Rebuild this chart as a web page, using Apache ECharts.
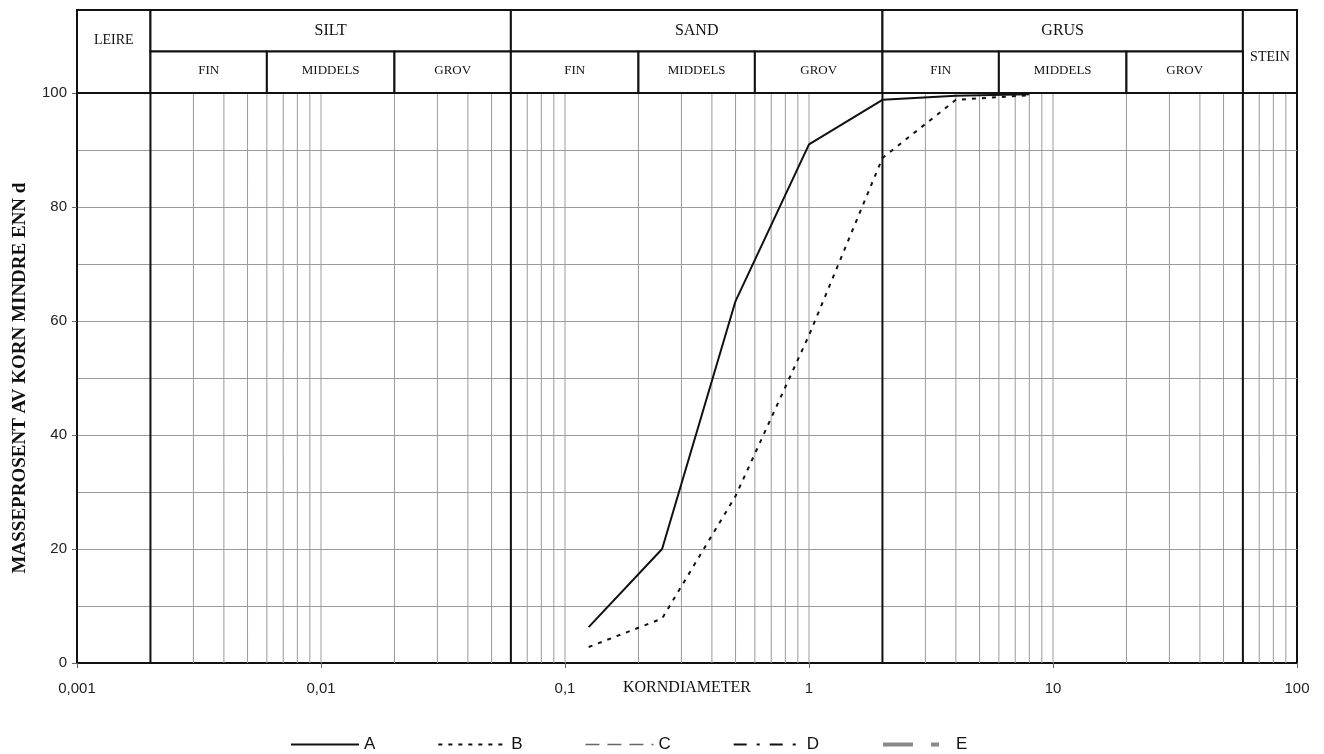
<!DOCTYPE html>
<html><head><meta charset="utf-8">
<script src="https://cdn.jsdelivr.net/npm/echarts@6/dist/echarts.min.js"></script>
<style>html,body{margin:0;padding:0;background:#fff}#c{width:1324px;height:754px}</style>
</head><body><div id="c"></div>
<script>
// ---- data ----
const sizes   = [0.125, 0.25, 0.5, 1, 2, 4, 8];
const seriesA = [6.3, 20, 63.5, 91, 98.8, 99.5, 99.8];
const seriesB = [2.8, 7.8, 29.3, 57.5, 88.6, 98.8, 99.6];
const seriesNames = ['A', 'B', 'C', 'D', 'E'];
const xTickLabels = ['0,001', '0,01', '0,1', '1', '10', '100'];
const classNames  = ['LEIRE', 'SILT', 'SAND', 'GRUS', 'STEIN'];
const classBounds = [0.001, 0.002, 0.06, 2, 60, 100];
const subNames    = ['FIN', 'MIDDELS', 'GROV'];
const subBounds   = [0.002, 0.006, 0.02, 0.06, 0.2, 0.6, 2, 6, 20, 60];
const boundaryLines = [0.002, 0.06, 2, 60];
const minorGrid = [0.002,0.003,0.004,0.005,0.006,0.007,0.008,0.009,
                   0.01,0.02,0.03,0.04,0.05,0.06,0.07,0.08,0.09,
                   0.1,0.2,0.3,0.4,0.5,0.6,0.7,0.8,0.9,
                   1,2,3,4,5,6,7,8,9,
                   10,20,30,40,50,60,70,80,90];

// ---- header cells ----
const cells = [];
classNames.forEach((n, i) => {
  const full = (i === 0 || i === classNames.length - 1);
  cells.push({name: n, x0: classBounds[i], x1: classBounds[i + 1], y0: full ? 0 : 1, y1: 2, kind: full ? 'full' : 'main'});
});
for (let j = 0; j < subBounds.length - 1; j++) {
  cells.push({name: subNames[j % 3], x0: subBounds[j], x1: subBounds[j + 1], y0: 0, y1: 1, kind: 'sub'});
}

function renderHeader(params, api) {
  const c = cells[params.dataIndex];
  const p0 = api.coord([c.x0, c.y1]);
  const p1 = api.coord([c.x1, c.y0]);
  let ty = (p0[1] + p1[1]) / 2;
  if (c.kind === 'sub') ty -= 2;
  if (c.name === 'LEIRE') ty = p0[1] + (p1[1] - p0[1]) * 0.37;
  if (c.name === 'STEIN') ty = p0[1] + (p1[1] - p0[1]) * 0.57;
  const fs = c.kind === 'sub' ? 13 : (c.kind === 'main' ? 16 : 14);
  return {
    type: 'group',
    children: [
      {type: 'rect', shape: {x: p0[0], y: p0[1], width: p1[0] - p0[0], height: p1[1] - p0[1]},
       style: {fill: '#fff', stroke: '#111', lineWidth: 2}},
      {type: 'text', style: {text: c.name, x: (p0[0] + p1[0]) / 2, y: ty, align: 'center', verticalAlign: 'middle',
       font: fs + 'px "Liberation Serif", serif', fill: '#111'}}
    ]
  };
}

function vLineRenderer(width, color) {
  return function (params, api) {
    const v = api.value(0);
    const p0 = api.coord([v, 0]);
    const p1 = api.coord([v, 100]);
    return {type: 'line', shape: {x1: p0[0], y1: p0[1], x2: p1[0], y2: p1[1]},
            style: {stroke: color, lineWidth: width}};
  };
}

const pairs = (vals) => sizes.map((s, i) => [s, vals[i]]);
const FONT_SANS = '"Liberation Sans", Arial, sans-serif';
const FONT_SERIF = '"Liberation Serif", "Times New Roman", serif';

const chart = echarts.init(document.getElementById('c'), null, {renderer: 'canvas'});
chart.setOption({
  animation: false,
  backgroundColor: '#fff',
  grid: [
    {left: 77, right: 27, top: 93, bottom: 91, show: true, borderColor: '#111', borderWidth: 2,
     backgroundColor: 'transparent', containLabel: false, outerBoundsMode: 'none'},
    {left: 77, right: 27, top: 10, height: 83, containLabel: false, outerBoundsMode: 'none'}
  ],
  xAxis: [
    {type: 'log', logBase: 10, min: 0.001, max: 100, gridIndex: 0,
     axisLine: {lineStyle: {color: '#111', width: 2}},
     axisTick: {show: true, length: 5, inside: false, lineStyle: {color: '#666'}},
     axisLabel: {formatter: v => xTickLabels[Math.round(Math.log10(v)) + 3], margin: 18, fontSize: 15,
                 fontFamily: FONT_SANS, color: '#222', showMinLabel: true, showMaxLabel: true},
     splitLine: {show: false},
     name: 'KORNDIAMETER', nameLocation: 'middle', nameGap: 17, nameMoveOverlap: false,
     nameTextStyle: {fontFamily: FONT_SERIF, fontSize: 16, color: '#111', verticalAlign: 'top'}},
    {type: 'log', logBase: 10, min: 0.001, max: 100, gridIndex: 1, show: false}
  ],
  yAxis: [
    {type: 'value', min: 0, max: 100, interval: 20, gridIndex: 0,
     axisLine: {show: true, lineStyle: {color: '#111', width: 2}},
     axisTick: {show: true, length: 5, lineStyle: {color: '#666'}},
     axisLabel: {margin: 10, fontSize: 15, fontFamily: FONT_SANS, color: '#222'},
     splitLine: {show: true, lineStyle: {color: '#9a9a9a', width: 1}},
     minorTick: {show: false, splitNumber: 2},
     minorSplitLine: {show: true, lineStyle: {color: '#9a9a9a', width: 1}},
     name: 'MASSEPROSENT AV KORN MINDRE ENN d', nameLocation: 'middle', nameGap: 47, nameMoveOverlap: false,
     nameTextStyle: {fontFamily: FONT_SERIF, fontWeight: 'bold', fontSize: 19, color: '#111'}},
    {type: 'value', min: 0, max: 2, gridIndex: 1, show: false}
  ],
  legend: {
    data: seriesNames, top: 736, left: 290, padding: 0, itemWidth: 68, itemHeight: 12, itemGap: 62,
    selectedMode: false,
    itemStyle: {color: 'rgba(0,0,0,0)', borderColor: 'rgba(0,0,0,0)', borderWidth: 0},
    lineStyle: {width: 'inherit', type: 'inherit'},
    textStyle: {fontSize: 17, fontFamily: FONT_SANS, color: '#111'}
  },
  series: [
    {name: 'grid', type: 'custom', xAxisIndex: 0, yAxisIndex: 0, silent: true, z: 1,
     renderItem: vLineRenderer(1, '#9a9a9a'), encode: {x: 0, y: 1},
     data: minorGrid.map(v => [v, 50])},
    {name: 'bounds', type: 'custom', xAxisIndex: 0, yAxisIndex: 0, silent: true, z: 3,
     renderItem: vLineRenderer(2, '#111'), encode: {x: 0, y: 1},
     data: boundaryLines.map(v => [v, 50])},
    {name: 'header', type: 'custom', xAxisIndex: 1, yAxisIndex: 1, silent: true, clip: false,
     renderItem: renderHeader, encode: {x: [0, 1], y: [2, 3]},
     data: cells.map(c => [c.x0, c.x1, c.y0, c.y1])},
    {name: 'A', type: 'line', data: pairs(seriesA), symbol: 'none', z: 5,
     itemStyle: {color: '#111'}, lineStyle: {color: '#111', width: 2, type: 'solid'}},
    {name: 'B', type: 'line', data: pairs(seriesB), symbol: 'none', z: 5,
     itemStyle: {color: '#111'}, lineStyle: {color: '#111', width: 2, type: [4, 6]}},
    {name: 'C', type: 'line', data: [], symbol: 'none',
     itemStyle: {color: '#666'}, lineStyle: {color: '#666', width: 1.5, type: [14, 8]}},
    {name: 'D', type: 'line', data: [], symbol: 'none',
     itemStyle: {color: '#111'}, lineStyle: {color: '#111', width: 2, type: [13, 10, 3, 10]}},
    {name: 'E', type: 'line', data: [], symbol: 'none',
     itemStyle: {color: '#8a8a8a'}, lineStyle: {color: '#8a8a8a', width: 4, type: [30, 18, 8, 100]}}
  ]
});
</script></body></html>
